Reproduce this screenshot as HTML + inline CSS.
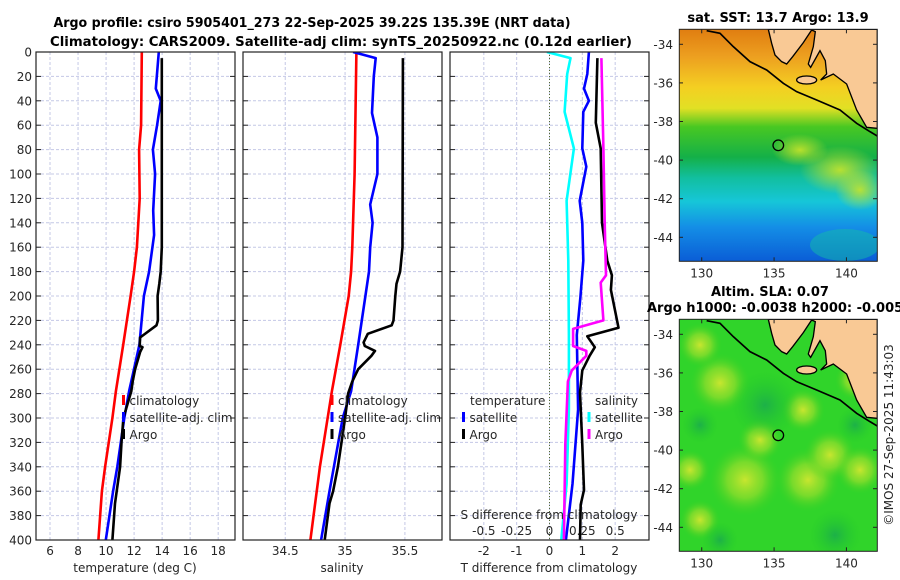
<!DOCTYPE html>
<html><head><meta charset="utf-8"><style>
html,body{margin:0;padding:0;background:#fff;}
svg{display:block;font-family:"DejaVu Sans","Liberation Sans",sans-serif;}
.tk{font-size:12px;fill:#262626;}
.ttl{font-size:13px;font-weight:bold;fill:#000;}
</style></head><body>
<svg id="chart" width="900" height="580" viewBox="0 0 900 580" xmlns="http://www.w3.org/2000/svg">
<defs>
<clipPath id="cp1"><rect x="36" y="52" width="199" height="488"/></clipPath>
<clipPath id="cp2"><rect x="243" y="52" width="199" height="488"/></clipPath>
<clipPath id="cp3"><rect x="450" y="52" width="199" height="488"/></clipPath>
<clipPath id="cm1"><rect x="679" y="29" width="198" height="232"/></clipPath>
<clipPath id="cm2"><rect x="679" y="319" width="198" height="232"/></clipPath>
<linearGradient id="sst" x1="0" y1="0" x2="0" y2="1">
<stop offset="0" stop-color="#e07d10"/><stop offset="0.12" stop-color="#eda020"/>
<stop offset="0.25" stop-color="#f4cf22"/><stop offset="0.34" stop-color="#e2e024"/>
<stop offset="0.42" stop-color="#48c822"/><stop offset="0.55" stop-color="#14b048"/>
<stop offset="0.64" stop-color="#12bfa0"/><stop offset="0.74" stop-color="#16c6d8"/>
<stop offset="0.85" stop-color="#148ee6"/><stop offset="1" stop-color="#0a5cd6"/>
</linearGradient>
<radialGradient id="yel"><stop offset="0" stop-color="#d8e830" stop-opacity="0.9"/><stop offset="0.5" stop-color="#a8e02c" stop-opacity="0.6"/><stop offset="1" stop-color="#40d020" stop-opacity="0"/></radialGradient>
<radialGradient id="yg"><stop offset="0" stop-color="#c8e42a" stop-opacity="0.9"/><stop offset="1" stop-color="#c8e42a" stop-opacity="0"/></radialGradient>
<radialGradient id="dg"><stop offset="0" stop-color="#18a850" stop-opacity="0.8"/><stop offset="1" stop-color="#20c828" stop-opacity="0"/></radialGradient>
</defs>
<g id="plots"></g>
</svg>
<script>
// ---- data: temperature panel ----
const climTDepth = [0,60,80,120,160,180,200,240,278,300,340,360,400];
const climT = [12.55,12.5,12.36,12.4,12.2,12.0,11.75,11.22,10.7,10.45,9.93,9.7,9.45];
const satTDepth = [0,30,40,60,80,100,130,150,180,200,240,278,300,340,360,400];
const satT = [13.76,13.55,13.9,13.64,13.34,13.5,13.36,13.43,13.07,12.7,12.38,11.64,11.3,10.8,10.5,9.98];
const argoTDepth = [5,160,180,190,200,220,224,234,241,242,246,260,270,278,300,320,340,360,370,400];
const argoT = [13.98,13.98,13.9,13.8,13.68,13.7,13.6,12.43,12.4,12.6,12.43,12.07,11.9,11.8,11.24,11.1,11.0,10.76,10.64,10.45];
// ---- data: salinity panel ----
const climSDepth = [0,100,160,180,200,240,278,340,400];
const climS = [35.095,35.08,35.06,35.05,35.03,34.96,34.89,34.79,34.71];
const satSDepth = [0,5,20,50,70,100,125,140,160,180,200,240,278,300,360,400];
const satS = [35.067,35.256,35.24,35.225,35.27,35.27,35.21,35.23,35.21,35.2,35.17,35.11,35.05,34.98,34.87,34.80];
const argoSDepth = [5,160,180,190,200,220,224,231,238,241,245,249,260,270,280,300,340,360,370,400];
const argoS = [35.483,35.48,35.46,35.43,35.42,35.405,35.39,35.19,35.155,35.165,35.25,35.22,35.11,35.06,35.025,35.0,34.94,34.9,34.87,34.83];
// ---- data: difference panel ----
const dSatSDepth = [0,5,18,49,79,122,171,232,293,354,400];
const dSatS = [-0.02,0.16,0.135,0.115,0.186,0.13,0.143,0.148,0.148,0.13,0.09];
const dSatTDepth = [0,18,30,40,49,79,94,122,140,171,201,232,293,354,400];
const dSatT = [1.2,1.15,1.05,1.2,1.03,1.0,1.12,0.92,1.0,1.03,0.94,0.83,0.87,0.7,0.5];
const dArgoTDepth = [5,58,79,140,171,183,195,226,233,242,249,261,279,322,359,371,400];
const dArgoT = [1.46,1.41,1.56,1.6,1.76,1.9,1.87,2.1,1.15,1.38,1.22,1.0,0.93,1.0,1.05,0.95,0.93];
const dArgoSDepth = [5,79,140,183,189,220,227,241,245,249,261,270,322,400];
const dArgoS = [0.395,0.41,0.42,0.43,0.39,0.41,0.18,0.18,0.28,0.28,0.17,0.14,0.12,0.11];
// ---- ticks ----
const depthTicks = [0,20,40,60,80,100,120,140,160,180,200,220,240,260,280,300,320,340,360,380,400];
const tTicks = [6,8,10,12,14,16,18];
const sTicks = [34.5,35,35.5];
const dTTicks = [-2,-1,0,1,2];
const dSTicks = [-0.5,-0.25,0,0.25,0.5];
const lonTicks = [130,135,140];
const latTicks = [-34,-36,-38,-40,-42,-44];

const NS='http://www.w3.org/2000/svg';
const root=document.getElementById('plots');
function el(tag,attrs,parent){const e=document.createElementNS(NS,tag);for(const k in attrs)e.setAttribute(k,attrs[k]);(parent||root).appendChild(e);return e;}
const Y0=52,Y1=540;
const yD=d=>Y0+d*(Y1-Y0)/400;
const xT=v=>36+(v-5)*199/14.2;
const xS=v=>243+(v-34.147)*199/1.663;
const xDT=v=>450+(v+3.03)*199/6.06;
const xDS=v=>xDT(v*4);
const panels=[{x:36,cp:'cp1',name:'temperature-panel'},{x:243,cp:'cp2',name:'salinity-panel'},{x:450,cp:'cp3',name:'difference-panel'}];

panels.forEach((p,i)=>{
  const g=el('g',{});
  
  
  depthTicks.forEach(d=>{if(d>0&&d<400){const l=el('line',{x1:p.x,x2:p.x+199,y1:yD(d),y2:yD(d),stroke:'#c4c8e6','stroke-width':1,'stroke-dasharray':'3,2'},g);}
    el('line',{x1:p.x,x2:p.x+5,y1:yD(d),y2:yD(d),stroke:'#222'},g);el('line',{x1:p.x+194,x2:p.x+199,y1:yD(d),y2:yD(d),stroke:'#222'},g);});
  const vt= i==0?tTicks.map(xT): i==1?sTicks.map(xS):dTTicks.map(xDT);
  vt.forEach(x=>{const l=el('line',{x1:x,x2:x,y1:Y0,y2:Y1,stroke:'#c4c8e6','stroke-width':1,'stroke-dasharray':'3,2'},g);});
});
el('line',{x1:xDT(0),x2:xDT(0),y1:Y0,y2:Y1,stroke:'#556b2f','stroke-width':1,'stroke-dasharray':'1,2'});

function series(xs,ds,fx,color,cp,name){
  const pts=xs.map((v,i)=>fx(v).toFixed(1)+','+yD(ds[i]).toFixed(1)).join(' ');
  const pl=el('polyline',{points:pts,fill:'none',stroke:color,'stroke-width':2.6,'stroke-linejoin':'round','clip-path':'url(#'+cp+')'});
  
  
}
series(climT,climTDepth,xT,'#ff0000','cp1','climatology-temperature-line');
series(satT,satTDepth,xT,'#0000ff','cp1','satellite-temperature-line');
series(argoT,argoTDepth,xT,'#000000','cp1','argo-temperature-line');
series(climS,climSDepth,xS,'#ff0000','cp2','climatology-salinity-line');
series(satS,satSDepth,xS,'#0000ff','cp2','satellite-salinity-line');
series(argoS,argoSDepth,xS,'#000000','cp2','argo-salinity-line');
series(dSatS,dSatSDepth,xDS,'#00ffff','cp3','salinity-satellite-diff-line');
series(dSatT,dSatTDepth,xDT,'#0000ff','cp3','temperature-satellite-diff-line');
series(dArgoT,dArgoTDepth,xDT,'#000000','cp3','temperature-argo-diff-line');
series(dArgoS,dArgoSDepth,xDS,'#ff00ff','cp3','salinity-argo-diff-line');

panels.forEach(p=>{const r=el('rect',{x:p.x,y:Y0,width:199,height:Y1-Y0,fill:'none',stroke:'#222','stroke-width':1.2});});

function txt(s,x,y,cls,anchor,extra){const t=el('text',Object.assign({x:x,y:y,class:cls,'text-anchor':anchor||'middle'},extra||{}));t.textContent=s;return t;}
depthTicks.forEach(d=>{const t=txt(String(d),32,yD(d)+4.5,'tk','end');});
tTicks.forEach(v=>{const t=txt(String(v),xT(v),555,'tk');});
sTicks.forEach(v=>{const t=txt(String(v),xS(v),555,'tk');});
dTTicks.forEach(v=>{const t=txt(String(v),xDT(v),555,'tk');});
dSTicks.forEach(v=>{const t=txt(String(v),xDS(v),535,'tk');});
let t;
t=txt('temperature (deg C)',135,572,'tk');
t=txt('salinity',342,572,'tk');
t=txt('T difference from climatology',549,572,'tk');
t=txt('S difference from climatology',549,519,'tk');
t=txt('Argo profile: csiro 5905401_273 22-Sep-2025 39.22S 135.39E (NRT data)',312,27,'ttl','middle',{textLength:517,lengthAdjust:'spacingAndGlyphs'});
t=txt('Climatology: CARS2009. Satellite-adj clim: synTS_20250922.nc (0.12d earlier)',341,46,'ttl','middle',{textLength:582,lengthAdjust:'spacingAndGlyphs'});

function legend(x,y,color,label,name){
  const g=el('g',{});
  el('line',{x1:x,x2:x,y1:y-10,y2:y,stroke:color,'stroke-width':3},g);
  const tt=el('text',{x:x+6,y:y,class:'tk','font-size':'13px'},g);tt.textContent=label;
}
legend(123.5,405,'#ff0000','climatology','legend-climatology-t');
legend(123.5,422,'#0000ff','satellite-adj. clim','legend-satellite-t');
legend(123.5,439,'#000000','Argo','legend-argo-t');
legend(332,405,'#ff0000','climatology','legend-climatology-s');
legend(332,422,'#0000ff','satellite-adj. clim','legend-satellite-s');
legend(332,439,'#000000','Argo','legend-argo-s');
t=txt('temperature',470,405,'tk','start',{'font-size':'13px'});
t=txt('salinity',595,405,'tk','start',{'font-size':'13px'});
legend(463.5,422,'#0000ff','satellite','legend-temperature-satellite');
legend(463.5,439,'#000000','Argo','legend-temperature-argo');
legend(589,422,'#00ffff','satellite','legend-salinity-satellite');
legend(589,439,'#ff00ff','Argo','legend-salinity-argo');

// ---- maps ----
const landPts='385,88 395,130 405,165 425,185 440,192 458,170 490,128 515,90 526,95 520,140 505,192 512,202 540,152 556,182 560,222 542,240 580,222 620,252 650,330 680,382 712,385 712,88';
const shelf='200,92 240,100 280,140 330,185 380,210 430,250 470,275 530,300 600,330 650,370 690,395 712,408';
const mlon=v=>679.3+(v-128.45)*14.47;
function map(top,cp,name,bottomFill){
  const g=el('g',{'clip-path':'url(#'+cp+')'});
  bottomFill(g);
  const off=top-29.3;
  const lg=el('g',{transform:'translate(640,'+(off)+') scale(0.3333)'},g);
  const land=el('polygon',{points:landPts,fill:'#f9c995',stroke:'#000','stroke-width':4},lg);
  
  el('ellipse',{cx:500,cy:240,rx:30,ry:12,fill:'#f9c995',stroke:'#000','stroke-width':4},lg);
  el('polyline',{points:shelf,fill:'none',stroke:'#000','stroke-width':5},lg);
  const mk=el('circle',{cx:778.3,cy:top+116,r:5.3,fill:'none',stroke:'#000','stroke-width':1.3});
  
  el('rect',{x:679.3,y:top,width:198,height:232,fill:'none',stroke:'#222','stroke-width':1});
  const laty=v=>top+15+(-34-v)*19.3;
  latTicks.forEach(v=>{const y=laty(v);el('line',{x1:679,x2:683,y1:y,y2:y,stroke:'#222'});el('line',{x1:873,x2:877,y1:y,y2:y,stroke:'#222'});
    const tl=txt(String(v),673,y+4.5,'tk','end');});
  lonTicks.forEach(v=>{const x=mlon(v);el('line',{x1:x,x2:x,y1:top+232,y2:top+228,stroke:'#222'});el('line',{x1:x,x2:x,y1:top,y2:top+4,stroke:'#222'});
    const tl=txt(String(v),x,top+248,'tk');});
}
map(29.3,'cm1','sst-map',g=>{
  el('rect',{x:679,y:29,width:199,height:233,fill:'url(#sst)'},g);
  [[840,170,40,24],[800,150,28,16],[860,190,25,20]].forEach(c=>el('ellipse',{cx:c[0],cy:c[1],rx:c[2],ry:c[3],fill:'url(#yg)'},g));
  el('ellipse',{cx:845,cy:245,rx:35,ry:16,fill:'#14bda8',opacity:0.5},g);
});
map(319.3,'cm2','sla-map',g=>{
  el('rect',{x:679,y:319,width:199,height:233,fill:'#30d42a'},g);
  [[720,383,30],[745,480,36],[808,480,32],[803,410,22],[830,455,26],[700,345,22],[690,470,20],[860,470,24],[760,440,22],[700,520,20],[855,380,20]].forEach(c=>el('circle',{cx:c[0],cy:c[1],r:c[2],fill:'url(#yel)'},g));
  [[765,405,34],[835,535,26],[700,425,18],[855,425,18],[720,540,18]].forEach(c=>el('circle',{cx:c[0],cy:c[1],r:c[2],fill:'url(#dg)'},g));
});
t=txt('sat. SST: 13.7 Argo: 13.9',778,22,'ttl');
t=txt('Altim. SLA: 0.07',770,296,'ttl');
t=txt('Argo h1000: -0.0038 h2000: -0.005',647,312,'ttl','start');
t=txt('©IMOS 27-Sep-2025 11:43:03',0,0,'tk','middle',{transform:'translate(893,435) rotate(-90)'});
</script>
</body></html>
